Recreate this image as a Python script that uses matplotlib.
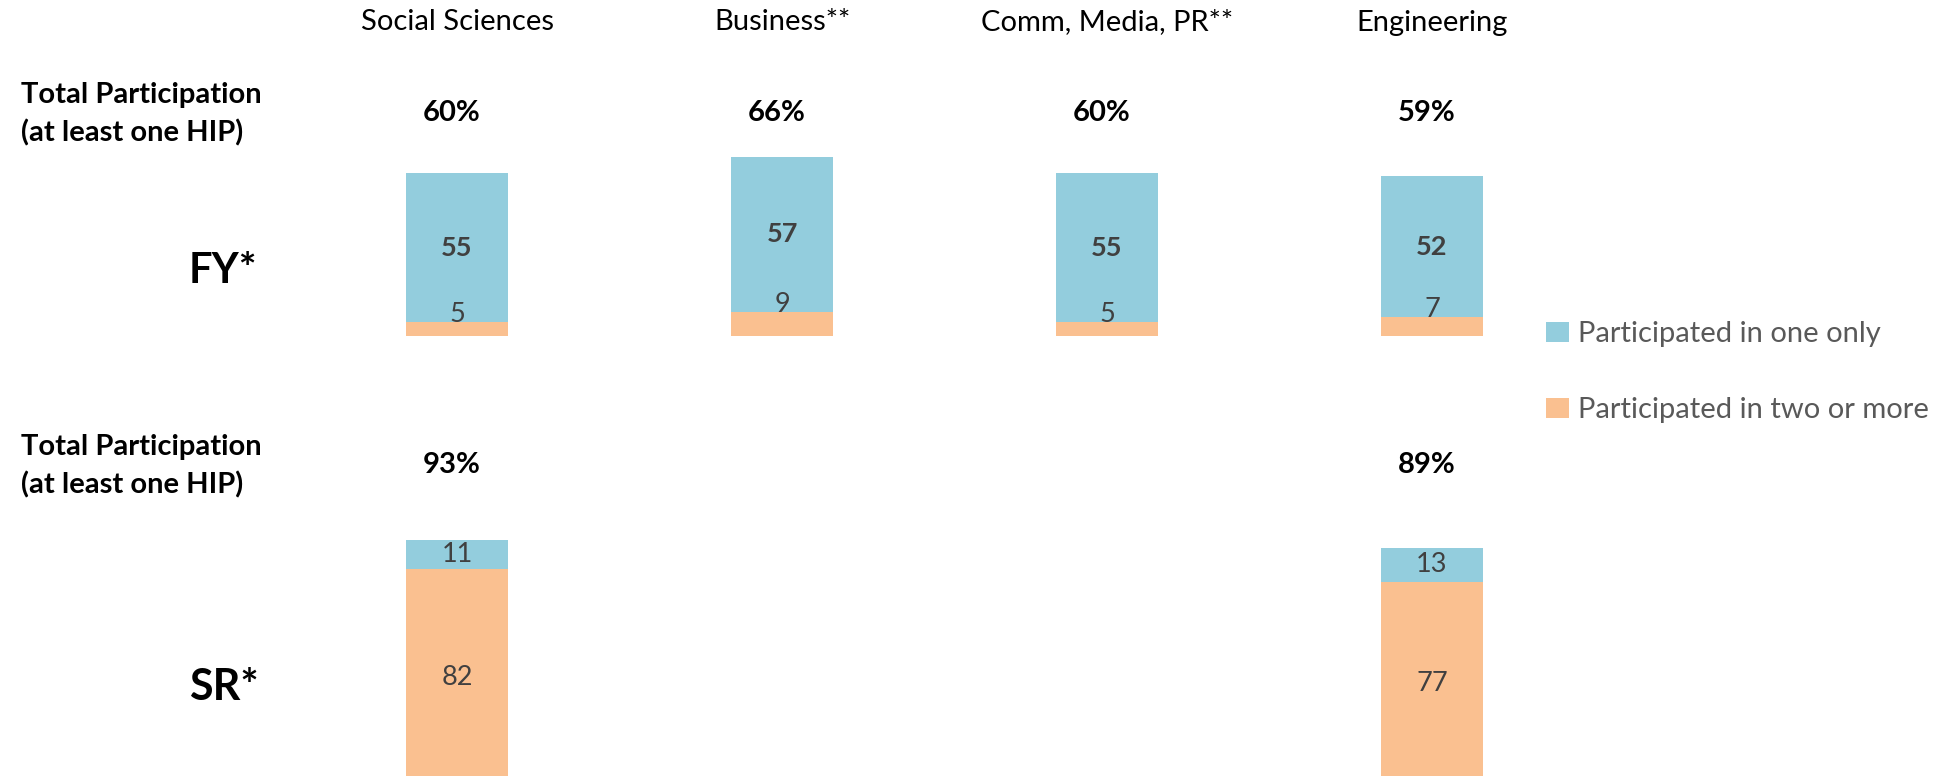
import matplotlib
matplotlib.use("Agg")
import matplotlib.pyplot as plt
from matplotlib.transforms import blended_transform_factory, offset_copy

# ---------------- data ----------------
categories = ["Social Sciences", "Business**", "Comm, Media, PR**", "Engineering"]
fy_one = [55, 57, 55, 52]
fy_two = [5, 9, 5, 7]
fy_total = ["60%", "66%", "60%", "59%"]

sr_categories = ["Social Sciences", "Engineering"]
sr_one = [11, 13]
sr_two = [82, 77]
sr_total = ["93%", "89%"]

series_labels = ["Participated in one only", "Participated in two or more"]
row_labels = ["FY*", "SR*"]
total_label = "Total Participation\n(at least one HIP)"

# ---------------- style ----------------
BLUE = "#93CDDD"
ORANGE = "#FAC090"
LABEL_DARK = "#404040"
LEGEND_GRAY = "#595959"
FONT = ["Lato", "DejaVu Sans"]
plt.rcParams["font.family"] = FONT

W, H, DPI = 1944, 776, 100
fig = plt.figure(figsize=(W / DPI, H / DPI), dpi=DPI)

def fyt(py_top):
    return 1 - py_top / H

BAR_W = 0.314
left_px, width_px = 294.5, 1300.0

# FY axes: value 0 at 336 px from top, 2.71 px per unit
ax_fy = fig.add_axes([left_px / W, (H - 336) / H, width_px / W, 70 * 2.71 / H])
ax_fy.set_xlim(-0.5, 3.5)
ax_fy.set_ylim(0, 70)

# SR axes: value 0 at 786 px from top (below figure edge), 2.65 px per unit
ax_sr = fig.add_axes([left_px / W, (H - 786) / H, width_px / W, 100 * 2.65 / H])
ax_sr.set_xlim(-0.5, 3.5)
ax_sr.set_ylim(0, 100)

for ax in (ax_fy, ax_sr):
    ax.axis("off")

x_fy = list(range(len(categories)))
x_sr = [categories.index(c) for c in sr_categories]

b_two = ax_fy.bar(x_fy, fy_two, width=BAR_W, color=ORANGE, label=series_labels[1])
b_one = ax_fy.bar(x_fy, fy_one, bottom=fy_two, width=BAR_W, color=BLUE, label=series_labels[0])
ax_sr.bar(x_sr, sr_two, width=BAR_W, color=ORANGE)
ax_sr.bar(x_sr, sr_one, bottom=sr_two, width=BAR_W, color=BLUE)

LBL = 19.5
# FY labels
for x, o, t in zip(x_fy, fy_one, fy_two):
    ax_fy.text(x, t + o / 2, str(o), ha="center", va="center", fontsize=LBL,
               fontweight="bold", color=LABEL_DARK)
    ax_fy.text(x, t, str(t), ha="center", va="baseline", fontsize=LBL,
               color=LABEL_DARK)
# SR labels
for x, o, t in zip(x_sr, sr_one, sr_two):
    ax_sr.text(x, t + o / 2, str(o), ha="center", va="center", fontsize=LBL,
               color=LABEL_DARK)
    ax_sr.text(x, t / 2, str(t), ha="center", va="center", fontsize=LBL,
               color=LABEL_DARK)

HDR = 21
# column headers and totals
tr_fy = blended_transform_factory(ax_fy.transData, fig.transFigure)
tr_pct = offset_copy(tr_fy, fig=fig, x=-5, y=0, units="dots")
for x, c in zip(x_fy, categories):
    ax_fy.text(x, fyt(22.5), c, transform=tr_fy, ha="center", va="center",
               fontsize=HDR, color="black")
for x, p in zip(x_fy, fy_total):
    ax_fy.text(x, fyt(113), p, transform=tr_pct, ha="center", va="center",
               fontsize=HDR, fontweight="bold", color="black")
for x, p in zip(x_sr, sr_total):
    ax_fy.text(x, fyt(465), p, transform=tr_pct, ha="center", va="center",
               fontsize=HDR, fontweight="bold", color="black")

# left-side labels
for yc in (114, 466):
    fig.text(21 / W, fyt(yc), total_label, ha="left", va="center", fontsize=HDR,
             fontweight="bold", color="black", linespacing=1.5)
fig.text(223 / W, fyt(271), row_labels[0], ha="center", va="center", fontsize=30,
         fontweight="bold", color="black")
fig.text(224 / W, fyt(687), row_labels[1], ha="center", va="center", fontsize=31,
         fontweight="bold", color="black")

# legend
leg = fig.legend(handles=[b_one, b_two], labels=series_labels, loc="center left",
                 bbox_to_anchor=(1546 / W, fyt(372)), frameon=False, fontsize=21,
                 handlelength=0.8, handleheight=0.68, handletextpad=0.3,
                 labelspacing=1.73, borderpad=0, borderaxespad=0)
for t in leg.get_texts():
    t.set_color(LEGEND_GRAY)

fig.savefig("out.png", dpi=DPI)
